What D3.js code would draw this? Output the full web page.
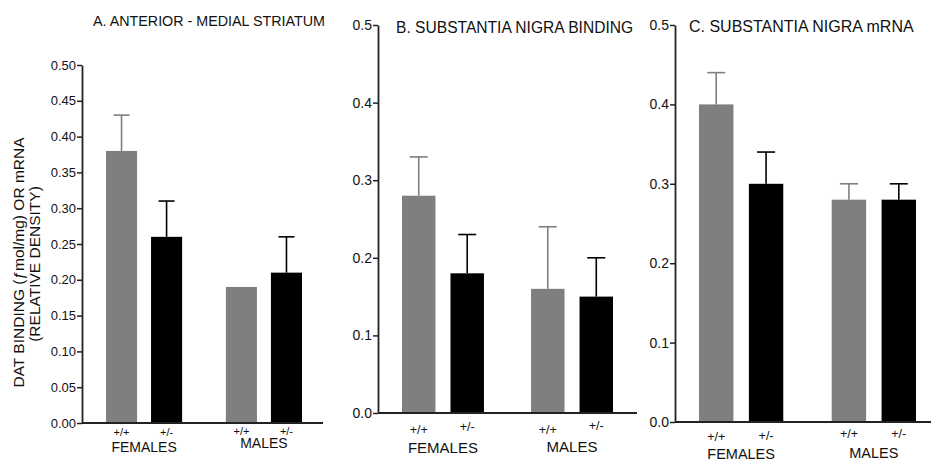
<!DOCTYPE html>
<html>
<head>
<meta charset="utf-8">
<script src="https://cdn.jsdelivr.net/npm/d3@7"></script>
<style>
  body { margin: 0; background: #fff; }
  text { font-family: "Liberation Sans", Arial, Helvetica, sans-serif; fill: #111; }
</style>
</head>
<body>
<div id="chart"></div>
<script>
var groups = ["FEMALES", "MALES"];
var genotypes = ["+/+", "+/-"];
var titles = ["A. ANTERIOR - MEDIAL STRIATUM", "B. SUBSTANTIA NIGRA BINDING", "C. SUBSTANTIA NIGRA mRNA"];

// bar order: FEMALES +/+, FEMALES +/-, MALES +/+, MALES +/-
var striatumMean  = [0.38, 0.26, 0.19, 0.21];
var striatumErr   = [0.05, 0.05, 0.00, 0.05];
var nigraBindMean = [0.28, 0.18, 0.16, 0.15];
var nigraBindErr  = [0.05, 0.05, 0.08, 0.05];
var nigraMrnaMean = [0.40, 0.30, 0.28, 0.28];
var nigraMrnaErr  = [0.04, 0.04, 0.02, 0.02];

var ticksA  = [0, 0.05, 0.10, 0.15, 0.20, 0.25, 0.30, 0.35, 0.40, 0.45, 0.50];
var ticksBC = [0, 0.1, 0.2, 0.3, 0.4, 0.5];

var yLabel1 = "DAT BINDING (\u0192mol/mg) OR mRNA";
var yLabel2 = "(RELATIVE DENSITY)";

var colors = {"+/+": "#7f7f7f", "+/-": "#000"};

var svg = d3.select("#chart").append("svg")
    .attr("width", 931)
    .attr("height", 462);

// layout of each panel
var panels = [
  {mean: striatumMean, err: striatumErr, ticks: ticksA, fmt: ".2f", title: titles[0],
   axisX: 82, yTop: 65, yBottom: 423, xEnd: 323, groupRange: [106, 302],
   tickSize: 13, titleX: 93, titleY: 26, titleSize: 14.3,
   genoSize: 11, genoDy: [13, 13, 12, 12], groupSize: 14, groupDy: [29, 25], capW: 16},
  {mean: nigraBindMean, err: nigraBindErr, ticks: ticksBC, fmt: ".1f", title: titles[1],
   axisX: 378, yTop: 25, yBottom: 413, xEnd: 637, groupRange: [402, 613],
   tickSize: 14, titleX: 396, titleY: 33, titleSize: 15.6,
   genoSize: 12.5, genoDy: [21, 18, 21, 17], groupSize: 15, groupDy: [40, 39], capW: 18},
  {mean: nigraMrnaMean, err: nigraMrnaErr, ticks: ticksBC, fmt: ".1f", title: titles[2],
   axisX: 675, yTop: 25, yBottom: 422, xEnd: 931, groupRange: [699, 916],
   tickSize: 14, titleX: 689, titleY: 32, titleSize: 16,
   genoSize: 12.5, genoDy: [19, 18, 16, 16], groupSize: 14.5, groupDy: [36.5, 36], capW: 18}
];

panels.forEach(function(p) {
  var g = svg.append("g");

  var y = d3.scaleLinear().domain([0, 0.5]).range([p.yBottom, p.yTop]);
  var xGroup = d3.scaleBand().domain(groups).range(p.groupRange).paddingInner(0.365).paddingOuter(0);
  var xGeno = d3.scaleBand().domain(genotypes).range([0, xGroup.bandwidth()]).paddingInner(0.31).paddingOuter(0);

  var bars = [];
  groups.forEach(function(gr, gi) {
    genotypes.forEach(function(ge, ei) {
      var i = gi * 2 + ei;
      bars.push({group: gr, geno: ge, mean: p.mean[i], err: p.err[i], i: i, gi: gi});
    });
  });

  var cx = function(d) { return xGroup(d.group) + xGeno(d.geno) + xGeno.bandwidth() / 2; };

  // bars
  g.selectAll("rect.bar").data(bars).enter()
    .append("rect")
    .attr("class", "bar")
    .attr("x", function(d) { return xGroup(d.group) + xGeno(d.geno); })
    .attr("y", function(d) { return y(d.mean); })
    .attr("width", xGeno.bandwidth())
    .attr("height", function(d) { return y(0) - y(d.mean); })
    .attr("fill", function(d) { return colors[d.geno]; });

  // error bars (upper only)
  var eb = g.selectAll("g.err").data(bars.filter(function(d) { return d.err > 0; })).enter()
    .append("g").attr("class", "err")
    .attr("stroke", function(d) { return colors[d.geno]; })
    .attr("stroke-width", 1.6);
  eb.append("line")
    .attr("x1", cx).attr("x2", cx)
    .attr("y1", function(d) { return y(d.mean); })
    .attr("y2", function(d) { return y(d.mean + d.err); });
  eb.append("line")
    .attr("x1", function(d) { return cx(d) - p.capW / 2; })
    .attr("x2", function(d) { return cx(d) + p.capW / 2; })
    .attr("y1", function(d) { return y(d.mean + d.err); })
    .attr("y2", function(d) { return y(d.mean + d.err); });

  // y axis
  var yAxis = g.append("g")
    .attr("transform", "translate(" + p.axisX + ",0)")
    .call(d3.axisLeft(y).tickValues(p.ticks).tickFormat(d3.format(p.fmt)).tickSize(5).tickSizeOuter(0).tickPadding(1));
  yAxis.select(".domain").attr("stroke", "#222").attr("stroke-width", 1.8);
  yAxis.selectAll(".tick line").attr("stroke", "#222").attr("stroke-width", 1.5);
  yAxis.selectAll(".tick text")
    .style("font-family", "'Liberation Sans', Arial, sans-serif")
    .style("font-size", p.tickSize + "px")
    .attr("fill", "#111");

  // x axis line
  g.append("line")
    .attr("x1", p.axisX).attr("x2", p.xEnd)
    .attr("y1", y(0)).attr("y2", y(0))
    .attr("stroke", "#222").attr("stroke-width", 1.8);

  // genotype labels
  g.selectAll("text.geno").data(bars).enter()
    .append("text")
    .attr("class", "geno")
    .attr("x", cx)
    .attr("y", function(d) { return y(0) + p.genoDy[d.i]; })
    .attr("text-anchor", "middle")
    .style("font-size", p.genoSize + "px")
    .text(function(d) { return d.geno; });

  // group labels
  g.selectAll("text.grp").data(groups).enter()
    .append("text")
    .attr("class", "grp")
    .attr("x", function(d) { return xGroup(d) + xGroup.bandwidth() / 2; })
    .attr("y", function(d, i) { return y(0) + p.groupDy[i]; })
    .attr("text-anchor", "middle")
    .style("font-size", p.groupSize + "px")
    .text(function(d) { return d; });

  // title
  g.append("text")
    .attr("x", p.titleX).attr("y", p.titleY)
    .style("font-size", p.titleSize + "px")
    .text(p.title);
});

// shared y label
svg.append("text")
  .attr("transform", "translate(24,262.5) rotate(-90)")
  .attr("text-anchor", "middle")
  .style("font-size", "15.5px")
  .text(yLabel1);
svg.append("text")
  .attr("transform", "translate(40,264) rotate(-90)")
  .attr("text-anchor", "middle")
  .style("font-size", "15.5px")
  .text(yLabel2);
</script>
</body>
</html>
